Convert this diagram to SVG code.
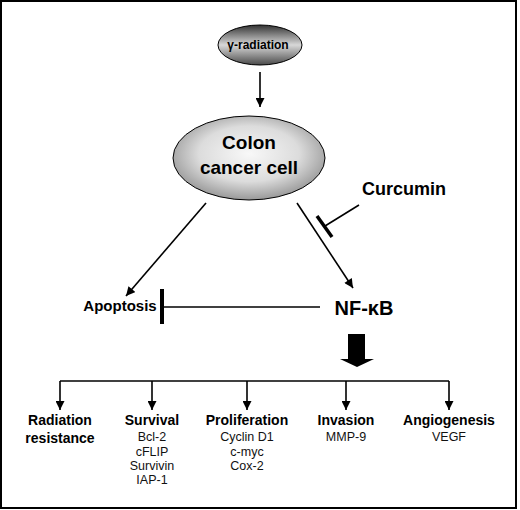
<svg xmlns="http://www.w3.org/2000/svg" width="520" height="510" viewBox="0 0 520 510">
<style>
.b{font-family:"Liberation Sans",Arial,sans-serif;font-weight:bold;fill:#000;text-anchor:middle}
.r{font-family:"Liberation Sans",Arial,sans-serif;fill:#111;text-anchor:middle;font-size:12.5px}
.ln{stroke:#000;stroke-width:1.6;fill:none}
</style>
<defs>
<linearGradient id="gG" x1="0" y1="0" x2="0" y2="1">
<stop offset="0" stop-color="#333"/>
<stop offset="0.5" stop-color="#d8d8d8"/>
<stop offset="1" stop-color="#4a4a4a"/>
</linearGradient>
<radialGradient id="gC" cx="0.5" cy="0.45" r="0.6">
<stop offset="0" stop-color="#f8f8f8"/>
<stop offset="0.55" stop-color="#dcdcdc"/>
<stop offset="1" stop-color="#8a8a8a"/>
</radialGradient>
<marker id="ah" viewBox="0 0 10 10" refX="10" refY="5" markerWidth="10" markerHeight="9" markerUnits="userSpaceOnUse" orient="auto">
<path d="M0,0 L10,5 L0,10 z" fill="#000"/>
</marker>
</defs>
<rect x="1" y="1" width="515" height="507" fill="#fff" stroke="#000" stroke-width="2"/>

<g id="gamma">
<ellipse cx="260" cy="45" rx="42" ry="20" fill="url(#gG)" stroke="#000" stroke-width="1"/>
<text class="b" x="258" y="49" font-size="12">γ-radiation</text>
</g>
<g id="colon">
<ellipse cx="249" cy="158" rx="76" ry="42" fill="url(#gC)" stroke="#000" stroke-width="1"/>
<text class="b" x="249" y="149" font-size="19">Colon</text>
<text class="b" x="249" y="174" font-size="19">cancer cell</text>
</g>
<g id="curcumin">
<text class="b" x="404" y="195" font-size="18">Curcumin</text>
</g>
<g id="apoptosis">
<text class="b" x="120" y="311" font-size="15">Apoptosis</text>
</g>
<g id="nfkb">
<text class="b" x="364" y="315" font-size="20">NF-κB</text>
</g>
<g id="outcomes">
<text class="b" x="60" y="425" font-size="14">Radiation</text>
<text class="b" x="60" y="443" font-size="14">resistance</text>
<text class="b" x="152" y="425" font-size="14">Survival</text>
<text class="r" x="152" y="441">Bcl-2</text>
<text class="r" x="152" y="455.5">cFLIP</text>
<text class="r" x="152" y="470">Survivin</text>
<text class="r" x="152" y="484">IAP-1</text>
<text class="b" x="247" y="425" font-size="14">Proliferation</text>
<text class="r" x="247" y="441">Cyclin D1</text>
<text class="r" x="247" y="455.5">c-myc</text>
<text class="r" x="247" y="470">Cox-2</text>
<text class="b" x="346" y="425" font-size="14">Invasion</text>
<text class="r" x="346" y="441">MMP-9</text>
<text class="b" x="449" y="425" font-size="14">Angiogenesis</text>
<text class="r" x="449" y="441">VEGF</text>
</g>

<g id="connectors">
<line class="ln" x1="260" y1="72" x2="260" y2="107" marker-end="url(#ah)"/>
<line class="ln" x1="206" y1="203" x2="126" y2="296" marker-end="url(#ah)"/>
<line class="ln" x1="297" y1="203" x2="353" y2="288" marker-end="url(#ah)"/>
<line class="ln" x1="359" y1="205" x2="325" y2="226"/>
<line x1="317" y1="216" x2="332" y2="237" stroke="#000" stroke-width="3.5"/>
<line class="ln" x1="320" y1="307" x2="162" y2="307"/>
<line x1="162" y1="289" x2="162" y2="324" stroke="#000" stroke-width="4"/>
<path d="M348,334 H365 V359 H374 L357,367 L340,359 H348 Z" fill="#000"/>
<path class="ln" d="M60,381 H449"/>
<line class="ln" x1="60" y1="381" x2="60" y2="410" marker-end="url(#ah)"/>
<line class="ln" x1="152" y1="381" x2="152" y2="410" marker-end="url(#ah)"/>
<line class="ln" x1="247" y1="381" x2="247" y2="410" marker-end="url(#ah)"/>
<line class="ln" x1="346" y1="381" x2="346" y2="410" marker-end="url(#ah)"/>
<line class="ln" x1="449" y1="381" x2="449" y2="410" marker-end="url(#ah)"/>
</g>
</svg>
